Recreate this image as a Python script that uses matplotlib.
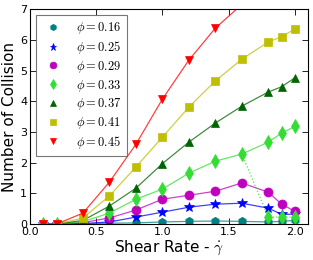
import matplotlib
matplotlib.use("Agg")
import matplotlib.pyplot as plt

plt.rcParams['mathtext.fontset'] = 'cm'
plt.rcParams['xtick.direction'] = 'in'
plt.rcParams['ytick.direction'] = 'in'
plt.rcParams['xtick.top'] = True
plt.rcParams['ytick.right'] = True

shear = [0.1, 0.2, 0.4, 0.6, 0.8, 1.0, 1.2, 1.4, 1.6, 1.8, 1.9, 2.0]
labels = ["0.16", "0.25", "0.29", "0.33", "0.37", "0.41", "0.45"]
phi016 = [0.0, 0.0, 0.01, 0.03, 0.04, 0.07, 0.09, 0.10, 0.09, 0.07, 0.09, 0.12]
phi025 = [0.0, 0.0, 0.02, 0.07, 0.23, 0.39, 0.55, 0.65, 0.68, 0.52, 0.32, 0.32]
phi029 = [0.0, 0.0, 0.05, 0.20, 0.46, 0.81, 0.94, 1.07, 1.34, 1.04, 0.65, 0.42]
phi033 = [0.0, 0.0, 0.08, 0.36, 0.81, 1.14, 1.66, 2.05, 2.28, 2.67, 2.96, 3.18]
phi037 = [0.0, 0.0, 0.12, 0.59, 1.17, 1.97, 2.67, 3.29, 3.84, 4.30, 4.47, 4.76]
phi041 = [0.0, 0.0, 0.20, 0.92, 1.86, 2.83, 3.81, 4.66, 5.37, 5.93, 6.10, 6.35]
phi045 = [0.0, 0.0, 0.36, 1.37, 2.60, 4.07, 5.34, 6.38, 7.15, 7.90, 8.25, 8.60]
alt_shear = [1.6, 1.8, 1.9, 2.0]
alt_phi033 = [2.28, 0.23, 0.23, 0.23]

series = [phi016, phi025, phi029, phi033, phi037, phi041, phi045]
markers = ['h', '*', 'o', 'd', '^', 's', 'v']
colors = ['#008080', '#0000ff', '#bf00bf', '#33dd33', '#006400', '#bfbf00', '#ff0000']
msizes = [6, 7, 6.5, 7, 6, 6, 6]

fig = plt.figure(figsize=(3.13, 2.60), dpi=100)
ax = fig.add_axes([0.096, 0.138, 0.888, 0.827])

for ys, lab, m, c, ms in zip(series, labels, markers, colors, msizes):
    ax.plot(shear, ys, '-', color=c, lw=0.9, alpha=0.75)
    ax.plot(shear, ys, linestyle='none', marker=m, color=c, ms=ms,
            mec=c, mew=0.5, label=r'$\phi=%s$' % lab)

ax.plot(alt_shear, alt_phi033, ':', color=colors[3], lw=0.9, alpha=0.85)
ax.plot(alt_shear[1:], alt_phi033[1:], linestyle='none', marker='d',
        color=colors[3], ms=7, mec=colors[3], mew=0.5)

ax.set_xlim(0, 2.1)
ax.set_ylim(0, 7)
ax.set_xticks([0.0, 0.5, 1.0, 1.5, 2.0])
ax.set_xticklabels(['0.0', '0.5', '1.0', '1.5', '2.0'])
ax.set_yticks(range(8))
ax.tick_params(labelsize=8, length=4, width=0.6, pad=2)
for s in ax.spines.values():
    s.set_linewidth(0.8)

ax.set_xlabel(r'Shear Rate - $\dot{\gamma}$', fontsize=11, labelpad=1)
ax.set_ylabel('Number of Collision', fontsize=11, labelpad=2)

leg = ax.legend(loc='upper left', numpoints=1, fontsize=9, fancybox=False,
                borderaxespad=0.5, handlelength=1.8, handletextpad=1.0,
                labelspacing=0.22, borderpad=0.4, markerscale=0.75)
leg.get_frame().set_edgecolor('#555555')
leg.get_frame().set_linewidth(0.8)

fig.savefig('out.png', dpi=100, facecolor='white')
